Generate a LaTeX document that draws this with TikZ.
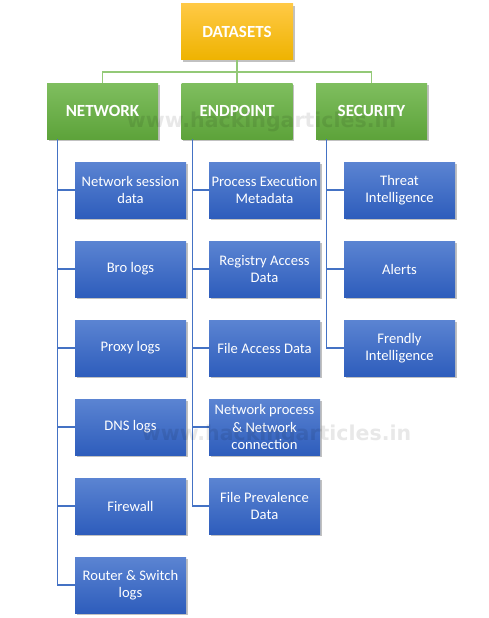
\documentclass[tikz,border=0pt]{standalone}
\usepackage{fontspec}
\setmainfont{Carlito}
\newfontfamily\markfont{DejaVu Sans}
\usetikzlibrary{shadows}

\definecolor{rootTop}{HTML}{FFC945}
\definecolor{rootBot}{HTML}{EEB300}
\definecolor{groupTop}{HTML}{7FBE5F}
\definecolor{groupBot}{HTML}{5DA33A}
\definecolor{itemTop}{HTML}{5B84D2}
\definecolor{itemBot}{HTML}{2E5DBC}
\definecolor{treeGreen}{HTML}{93C977}
\definecolor{treeBlue}{HTML}{4472C4}

\tikzset{
  box/.style={minimum width=111pt, minimum height=56pt, inner sep=0pt,
    align=center, text=white,
    drop shadow={shadow xshift=1.5pt, shadow yshift=-2pt, opacity=0.35, fill=black!70}},
  rootbox/.style={box, minimum width=112pt, top color=rootTop, bottom color=rootBot,
    font=\fontsize{17}{20}\selectfont\bfseries},
  groupbox/.style={box, top color=groupTop, bottom color=groupBot,
    font=\fontsize{17}{20}\selectfont\bfseries},
  itembox/.style={box, top color=itemTop, bottom color=itemBot,
    font=\fontsize{14.6}{17.5}\selectfont},
  trunk/.style={draw=treeGreen, line width=1.6pt},
  branch/.style={draw=treeBlue, line width=1.2pt},
  watermark/.style={text=black, opacity=0.09, font=\markfont\bfseries\fontsize{20.5}{24}\selectfont}
}

\begin{document}
\begin{tikzpicture}[x=1pt, y=-1pt]

\useasboundingbox (0,0) rectangle (489,618);

% Define layout
\def\rowtop{190}  % centre of first child row
\def\rowgap{79}   % distance between child rows

% Top level
\node[rootbox] (root) at (237,32) {DATASETS};

% Groups
\node[groupbox] (net) at (102.5,111) {NETWORK};
\node[groupbox] (end) at (237,111) {ENDPOINT};
\node[groupbox] (sec) at (371.5,111) {SECURITY};

% Green connectors
\coordinate (split) at (237,72);
\draw[trunk] (root.south) -- (split);
\foreach \g in {net, end, sec} {
    \draw[trunk] (split) -| (\g.north);
}

% Network children
\foreach \txt [count=\i] in {Network session\\data, Bro logs, Proxy logs,
    DNS logs, Firewall, Router \& Switch\\logs} {
    \node[itembox] (net\i) at (130.5,\rowtop+\rowgap*\i-\rowgap) {\txt};
    \draw[branch] ([xshift=11pt]net.south west) |- (net\i.west);
}

% Endpoint children
\foreach \txt [count=\i] in {Process Execution\\Metadata, Registry Access\\Data,
    File Access Data, Network process\\\& Network\\connection,
    File Prevalence\\Data} {
    \node[itembox] (end\i) at (264.5,\rowtop+\rowgap*\i-\rowgap) {\txt};
    \draw[branch] ([xshift=11pt]end.south west) |- (end\i.west);
}

% Security children
\foreach \txt [count=\i] in {Threat\\Intelligence, Alerts, Frendly\\Intelligence} {
    \node[itembox] (sec\i) at (399.5,\rowtop+\rowgap*\i-\rowgap) {\txt};
    \draw[branch] ([xshift=11pt]sec.south west) |- (sec\i.west);
}

% Watermarks
\node[watermark] (mark1) at (261.5,122) {www.hackingarticles.in};
\node[watermark] (mark2) at (276.5,435) {www.hackingarticles.in};

\end{tikzpicture}
\end{document}
